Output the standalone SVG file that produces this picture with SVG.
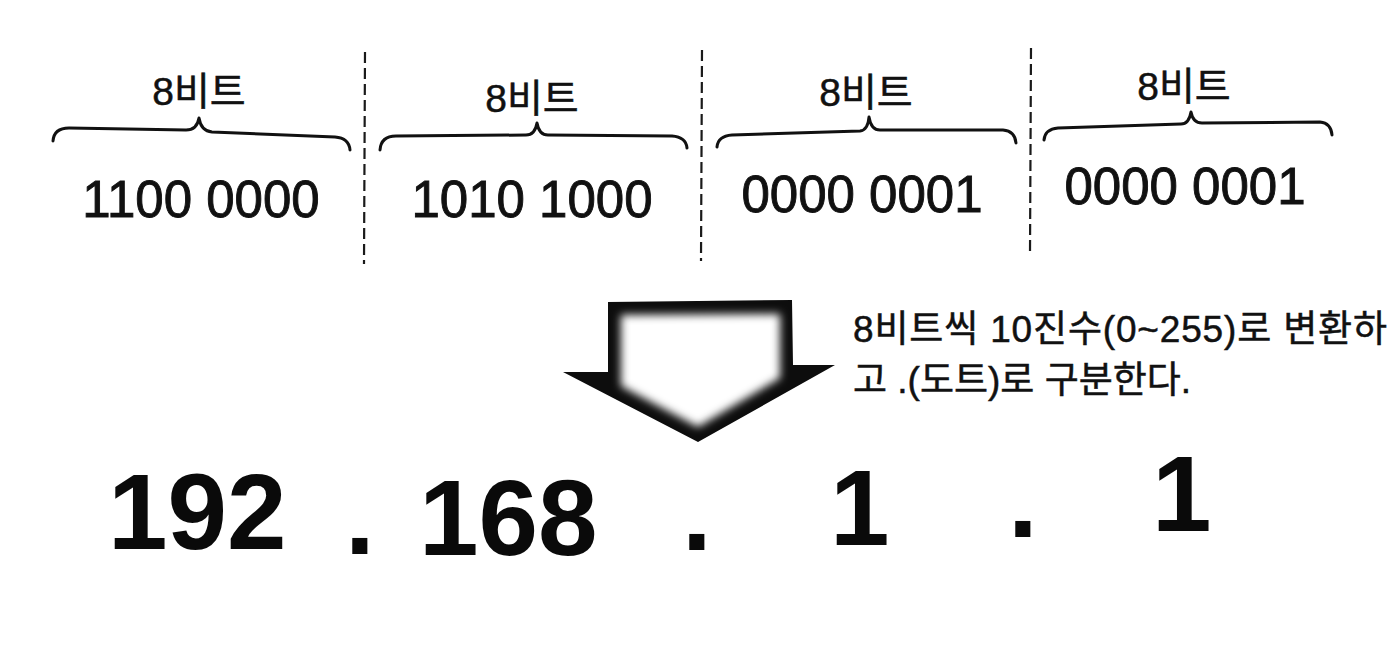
<svg xmlns="http://www.w3.org/2000/svg" width="1392" height="659" viewBox="0 0 1392 659">
<style>
.lbl{font-family:"Liberation Sans","Noto Sans CJK KR",sans-serif;font-size:39px;fill:#111;stroke:#111;stroke-width:0.5;text-anchor:middle}
.bin{font-family:"Liberation Sans","Noto Sans CJK KR",sans-serif;font-size:51px;fill:#111;stroke:#111;stroke-width:0.9;text-anchor:middle}
.big{font-family:"Liberation Sans",sans-serif;font-size:107px;font-weight:bold;fill:#0a0a0a}
.note{font-family:"Liberation Sans","Noto Sans CJK KR",sans-serif;font-size:37px;fill:#111;stroke:#111;stroke-width:0.5}
.brace{fill:none;stroke:#111;stroke-width:3;stroke-linecap:round;stroke-linejoin:round}
.sep{stroke:#1a1a1a;stroke-width:2.2;stroke-dasharray:11 5}
</style>
<defs>
<filter id="soft" x="-20%" y="-20%" width="140%" height="140%">
<feGaussianBlur stdDeviation="4.5"/>
</filter>
</defs>
<rect width="1392" height="659" fill="#ffffff"/>
<g id="separators">
<line class="sep" x1="365" y1="52" x2="364" y2="264"/>
<line class="sep" x1="702" y1="50" x2="701" y2="261"/>
<line class="sep" x1="1031" y1="48" x2="1030" y2="254"/>
</g>
<g id="octet1">
<text class="lbl" x="199" y="105">8비트</text>
<path class="brace" d="M53,141 Q54,128 69,128 L186,130 Q197,130 199,118 Q201,131 212,132 L335,137 Q349,138 350,150"/>
<text class="bin" x="201" y="217">1100 0000</text>
</g>
<g id="octet2">
<text class="lbl" x="532" y="112">8비트</text>
<path class="brace" d="M380,150 Q381,136 396,136 L526,135 Q535,135 537,123 Q539,135 548,135 L672,136 Q686,137 687,148"/>
<text class="bin" x="532" y="217">1010 1000</text>
</g>
<g id="octet3">
<text class="lbl" x="866" y="106">8비트</text>
<path class="brace" d="M717,147 Q718,136 732,135 L860,131 Q868,130 869,117 Q871,130 880,130 L1003,130 Q1015,131 1016,143"/>
<text class="bin" x="862" y="212">0000 0001</text>
</g>
<g id="octet4">
<text class="lbl" x="1184" y="100">8비트</text>
<path class="brace" d="M1044,140 Q1045,129 1058,128 L1181,124 Q1189,124 1191,112 Q1193,123 1202,123 L1320,122 Q1331,123 1332,135"/>
<text class="bin" x="1185" y="204">0000 0001</text>
</g>
<g id="connectors">
<g id="convert-arrow">
<polygon points="608,302 792,300 793,365 835,365 698,442 563,372 608,372" fill="#0d0d0d"/>
<polygon points="621,315 780,314 780,378 698,427 621,386" fill="#ffffff" filter="url(#soft)"/>
</g>
</g>
<g id="note">
<text class="note" x="853" y="342" textLength="534" lengthAdjust="spacing">8비트씩 10진수(0~255)로 변환하</text>
<text class="note" x="853" y="393">고 .(도트)로 구분한다.</text>
</g>
<g id="decimal">
<text class="big" x="108" y="549">192</text>
<text class="big" x="345" y="554">.</text>
<text class="big" x="419" y="555">168</text>
<text class="big" x="682" y="550">.</text>
<text class="big" x="830" y="545">1</text>
<text class="big" x="1008" y="537">.</text>
<text class="big" x="1152" y="531">1</text>
</g>
</svg>
